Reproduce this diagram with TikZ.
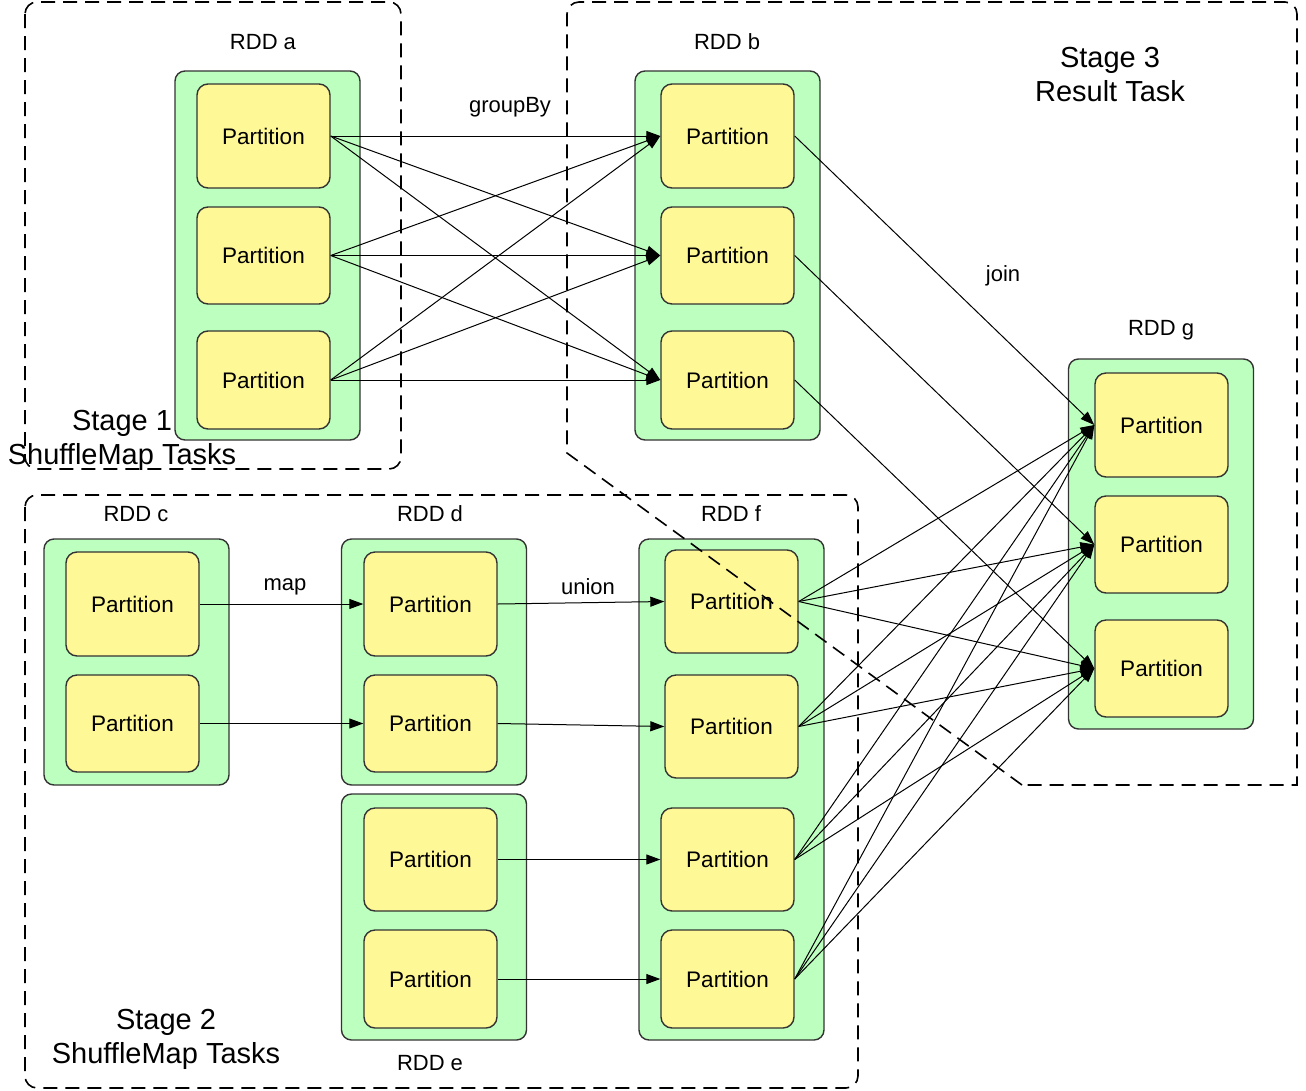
\documentclass[tikz,border=0pt]{standalone}
\usepackage{fontspec}
\setmainfont{Liberation Sans}
\usetikzlibrary{arrows.meta}
\definecolor{rddgreen}{HTML}{BDFFBF}
\definecolor{partyellow}{HTML}{FFF896}
\definecolor{edgegray}{HTML}{333333}
\tikzset{
  rddbox/.style={draw=edgegray, fill=rddgreen, line width=1.4pt, rounded corners=10pt, inner sep=0pt, minimum width=185pt},
  partbox/.style={draw=edgegray, fill=partyellow, line width=1.4pt, rounded corners=11pt, inner sep=0pt, minimum width=133pt, font=\fontsize{22.5}{26}\selectfont},
  stagebox/.style={draw=black, line width=1.6pt, dash pattern=on 14pt off 8pt},
  lbl/.style={inner sep=0pt, font=\fontsize{22}{26}\selectfont},
  stagelbl/.style={inner sep=0pt, align=center, font=\fontsize{29}{34}\selectfont},
  arr/.style={draw=black, line width=1pt, -{Triangle[length=14pt,width=10pt]}},
}
\begin{document}
\begin{tikzpicture}[x=1pt,y=-1pt]
\useasboundingbox (0,0) rectangle (1306,1090);

% RDD containers
\node[rddbox, minimum height=369pt] (A) at (267.5,255.5) {};
\node[rddbox, minimum height=369pt] (B) at (727.5,255.5) {};
\node[rddbox, minimum height=370pt] (G) at (1161,544) {};
\node[rddbox, minimum height=246pt] (C) at (136.5,662) {};
\node[rddbox, minimum height=246pt] (D) at (434,662) {};
\node[rddbox, minimum height=246pt] (E) at (434,917) {};
\node[rddbox, minimum height=501pt] (F) at (731.5,789.5) {};

% partitions
\node[partbox, minimum height=104pt] (a1) at (263.5,136) {Partition};
\node[partbox, minimum height=97pt]  (a2) at (263.5,255.5) {Partition};
\node[partbox, minimum height=98pt]  (a3) at (263.5,380) {Partition};
\node[partbox, minimum height=104pt] (b1) at (727.5,136) {Partition};
\node[partbox, minimum height=97pt]  (b2) at (727.5,255.5) {Partition};
\node[partbox, minimum height=98pt]  (b3) at (727.5,380) {Partition};
\node[partbox, minimum height=104pt] (g1) at (1161.5,425) {Partition};
\node[partbox, minimum height=97pt]  (g2) at (1161.5,544.5) {Partition};
\node[partbox, minimum height=97pt]  (g3) at (1161.5,668.5) {Partition};
\node[partbox, minimum height=104pt] (c1) at (132.5,604) {Partition};
\node[partbox, minimum height=97pt]  (c2) at (132.5,723.5) {Partition};
\node[partbox, minimum height=104pt] (d1) at (430.5,604) {Partition};
\node[partbox, minimum height=97pt]  (d2) at (430.5,723.5) {Partition};
\node[partbox, minimum height=103pt] (e1) at (430.5,859.5) {Partition};
\node[partbox, minimum height=98pt]  (e2) at (430.5,979) {Partition};
\node[partbox, minimum height=103pt] (f1) at (731.5,601.5) {Partition};
\node[partbox, minimum height=103pt] (f2) at (731.5,726.5) {Partition};
\node[partbox, minimum height=103pt] (f3) at (727.5,859.5) {Partition};
\node[partbox, minimum height=98pt]  (f4) at (727.5,979) {Partition};

% labels
\node[lbl] (la) at (263,42) {RDD a};
\node[lbl] (lb) at (727,42) {RDD b};
\node[lbl] (lg) at (1161,330) {RDD g};
\node[lbl] (lc) at (136,514) {RDD c};
\node[lbl] (ld) at (430,514) {RDD d};
\node[lbl] (lf) at (731,514) {RDD f};
\node[lbl] (le) at (430,1063) {RDD e};
\node[lbl] (lgroup) at (510,107) {groupBy};
\node[lbl] (ljoin) at (1003,276) {join};
\node[lbl] (lmap) at (285,587) {map};
\node[lbl] (lunion) at (588,587) {union};
\node[stagelbl] (s1) at (122,440) {Stage 1\\ShuffleMap Tasks};
\node[stagelbl] (s2) at (166,1039) {Stage 2\\ShuffleMap Tasks};
\node[stagelbl] (s3) at (1110,75) {Stage 3\\Result Task};

% groupBy shuffle a -> b
\foreach \i in {1,2,3}{
  \foreach \j in {1,2,3}{
    \draw[arr] (a\i.east) -- (b\j.west);
  }
}
% join b -> g (narrow)
\foreach \i in {1,2,3}{
  \draw[arr] (b\i.east) -- (g\i.west);
}
% f -> g shuffle
\foreach \i in {1,2,3,4}{
  \foreach \j in {1,2,3}{
    \draw[arr] (f\i.east) -- (g\j.west);
  }
}
% map, union
\draw[arr] (c1.east) -- (d1.west);
\draw[arr] (c2.east) -- (d2.west);
\draw[arr] (d1.east) -- (f1.west);
\draw[arr] (d2.east) -- (f2.west);
\draw[arr] (e1.east) -- (f3.west);
\draw[arr] (e2.east) -- (f4.west);

% stage boundaries (drawn on top)
\draw[stagebox, rounded corners=12pt] (25,2) rectangle (401,469);
\draw[stagebox, rounded corners=12pt] (25,495) rectangle (858,1088);
\draw[stagebox] (1022,785) -- (567,453) [rounded corners=12pt] -- (567,2) -- (1297,2) [sharp corners] -- (1297,785) -- cycle;
\end{tikzpicture}
\end{document}
